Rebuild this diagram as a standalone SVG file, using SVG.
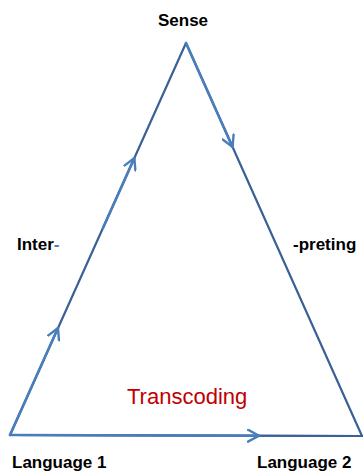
<svg xmlns="http://www.w3.org/2000/svg" width="363" height="474" viewBox="0 0 363 474">
<style>
.edge{stroke:#3A6195;stroke-width:2.2;fill:none;stroke-linecap:round;stroke-linejoin:round}
.arrow{stroke:#4A7EBB;stroke-width:2.6;fill:none;stroke-linecap:round}
.lbl{font-family:"Liberation Sans",Arial,sans-serif;font-weight:bold;font-size:17px;fill:#000}
.red{font-family:"Liberation Sans",Arial,sans-serif;font-size:22px;fill:#C00000}
</style>
<defs>
<marker id="ah" viewBox="0 0 14 14" markerWidth="14" markerHeight="14" refX="12" refY="7" orient="auto" markerUnits="userSpaceOnUse">
<path d="M1,1 L12,7 L1,13" fill="none" stroke="#4A7EBB" stroke-width="2.4" stroke-linecap="round" stroke-linejoin="round"/>
</marker>
</defs>
<g id="connectors">
<polygon class="edge" points="10,435 186,43 362,436"/>
<line class="edge" x1="10" y1="435" x2="362" y2="436"/>
<line class="arrow" x1="10" y1="435" x2="58" y2="328" marker-end="url(#ah)"/>
<line class="arrow" x1="103" y1="228" x2="134.4" y2="158" marker-end="url(#ah)"/>
<line class="arrow" x1="186" y1="43" x2="232.6" y2="147" marker-end="url(#ah)"/>
<line class="arrow" x1="10" y1="435" x2="259" y2="435.7" marker-end="url(#ah)"/>
</g>
<g id="sense"><text class="lbl" x="183" y="26" text-anchor="middle" font-size="18">Sense</text></g>
<g id="inter"><text class="lbl" x="17" y="250">Inter<tspan fill="#4A7EBB">-</tspan></text></g>
<g id="preting"><text class="lbl" x="293" y="250">-preting</text></g>
<g id="language1"><text class="lbl" x="12" y="468">Language 1</text></g>
<g id="language2"><text class="lbl" x="257" y="468">Language 2</text></g>
<g id="transcoding"><text class="red" x="127" y="404">Transcoding</text></g>
</svg>
